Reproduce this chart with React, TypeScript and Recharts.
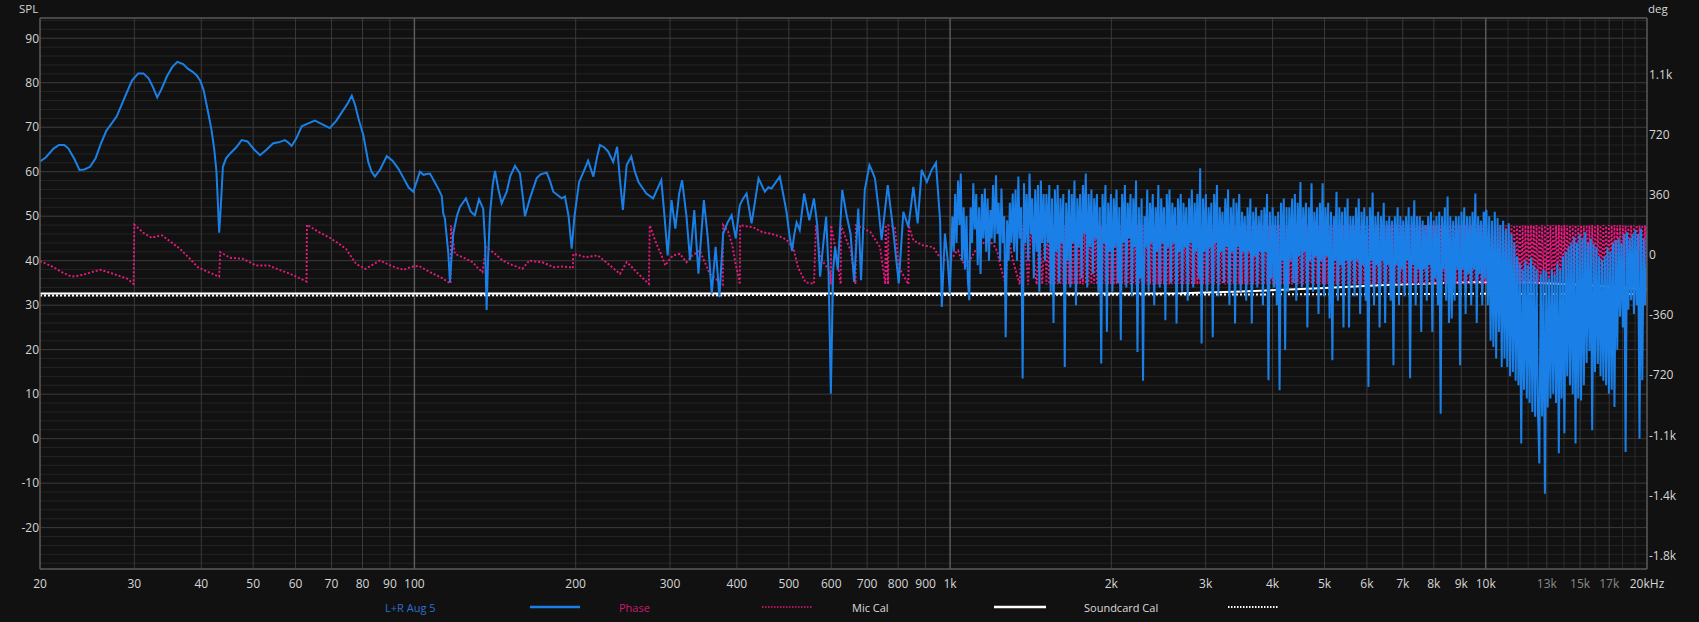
import React from 'react';
import { LineChart, Line, XAxis, YAxis, CartesianGrid } from 'recharts';

const W = 1699;
const H = 622;
const FONT = '"Open Sans", "Noto Sans", sans-serif';
const BLUE = '#1a80e8';
const PINK = '#e8197f';

// ---- ticks ----
const xTicks = [20, 30, 40, 50, 60, 70, 80, 90, 100, 200, 300, 400, 500, 600, 700, 800, 900, 1000, 2000, 3000, 4000, 5000, 6000, 7000, 8000, 9000, 10000, 13000, 15000, 17000, 20000];
const xMinorLines = [11000, 12000, 14000, 16000, 18000, 19000];
const xDecadeLines = [100, 1000, 10000];
const splTicks = [-20, -10, 0, 10, 20, 30, 40, 50, 60, 70, 80, 90];
const splMinor = [-28, -26, -24, -22, -18, -16, -14, -12, -8, -6, -4, -2, 2, 4, 6, 8, 12, 14, 16, 18, 22, 24, 26, 28, 32, 34, 36, 38, 42, 44, 46, 48, 52, 54, 56, 58, 62, 64, 66, 68, 72, 74, 76, 78, 82, 84, 86, 88, 92, 94];
const degTicks = [-1800, -1440, -1080, -720, -360, 0, 360, 720, 1080];
const SPL_DOMAIN = [-29.3, 94.55];
const DEG_DOMAIN = [-1880, 1417];

// ---- L+R Aug 5 SPL, 20 Hz .. 1 kHz ----
const splLow = [
  [20, 62.3], [20.5, 63.2], [21.2, 65.2], [21.7, 66.0], [22.2, 66.0], [22.6, 65.2], [23.2, 62.8], [23.7, 60.4], [24.2, 60.5], [24.8, 61.1],
  [25.4, 63.0], [26.0, 66.4], [26.6, 69.2], [27.2, 70.8], [27.8, 72.4], [28.4, 75.0], [29.0, 77.6], [29.7, 80.5], [30.5, 82.1], [31.2, 82.1],
  [31.9, 81.0], [32.5, 79.0], [33.1, 76.7], [33.7, 78.5], [34.5, 81.4], [35.3, 83.5], [36.1, 84.7], [37.0, 84.2], [37.8, 83.1], [38.5, 82.5],
  [39.2, 81.7], [39.8, 80.5], [40.4, 78.4], [41.1, 74.0], [41.8, 69.4], [42.3, 65.0], [42.7, 60.0], [43.0, 52.0], [43.2, 46.3], [43.5, 52],
  [43.9, 61.1], [44.5, 63.0], [45.3, 64.1], [46.5, 65.5], [47.6, 67.1], [48.8, 66.8], [50.2, 65.0], [51.5, 63.7], [53.0, 65.0], [54.5, 66.4],
  [55.8, 66.6], [57.3, 67.1], [58.2, 66.5], [59.0, 65.8], [60.2, 67.5], [61.6, 70.2], [63.2, 70.8], [65.2, 71.5], [67.5, 70.6], [69.5, 69.8],
  [71.5, 71.5], [73.7, 73.9], [75.2, 75.5], [76.4, 77.1], [77.5, 75], [78.6, 72.0], [80.3, 68.2], [81.2, 65], [82.0, 62.2], [83.2, 60],
  [84.4, 58.9], [86.3, 60.5], [88.8, 63.5], [91, 62.5], [93.3, 60.7], [95.5, 58.5], [97.5, 56.5], [99.5, 55.5], [102.4, 60.0], [104, 59.3],
  [105.4, 59.5], [106.9, 59.6], [108.5, 58.2], [110.8, 56.2], [112.5, 54.5], [113.2, 50.6], [114, 49.5], [115.7, 41.6], [116.5, 35.2], [117.2, 40],
  [118.2, 46.1], [120, 50], [121.6, 52.1], [124.8, 54.0], [127.4, 51.0], [129.7, 50.2], [132, 53.8], [134.4, 51.7], [135.5, 44], [136.4, 28.9],
  [137.2, 40], [138.4, 50.6], [140, 57], [141.4, 60.2], [143.5, 56], [145.5, 52.9], [148.7, 55.5], [151, 59], [154.1, 61.3], [157.4, 59.6],
  [159.5, 54], [160.8, 50.0], [164.3, 54], [169.1, 58.5], [172, 59.4], [176.6, 59.8], [179, 58], [181.7, 55.5], [188.3, 54], [191, 54.4],
  [194, 50], [196.6, 42.7], [199, 50], [203, 57.7], [207, 60], [211, 62.5], [215.8, 58.9], [219, 63], [222, 66], [226, 65.5],
  [230, 64.5], [235, 62.2], [239, 65.6], [242, 58], [245, 51.4], [249, 61.5], [254, 63.4], [258, 60], [262, 57.7], [266, 56.5],
  [271, 55.1], [279, 54], [285, 56.5], [289, 58.1], [293, 50], [297, 41.2], [302, 53.6], [307, 47.2], [312, 55], [316, 58.1],
  [322, 50], [327, 40.1], [333, 51.4], [339, 37.1], [347, 53.6], [353, 45], [359, 32.6], [365, 43.1], [371, 31.8], [377, 46.1],
  [384, 48.5], [391, 50.2], [398, 45], [405, 52.5], [411, 54], [417, 55.1], [426, 48.4], [432, 53], [439, 58.5], [445, 57],
  [451, 55.5], [458, 56.5], [464, 56.2], [472, 57.5], [481, 58.9], [488, 55], [495, 51], [501, 46], [507, 42.2], [512, 46],
  [517, 48.6], [524, 46.9], [534, 55.1], [546, 49.1], [557, 54.0], [565, 48], [572, 36.4], [580, 44], [587, 49.9], [593, 38],
  [599, 10.1], [605, 38], [610, 43.1], [617, 37.9], [629, 55.9], [641, 50.2], [652, 46], [662, 35.2], [674, 51.7], [682, 35.6],
  [693, 55.9], [707, 61.5], [716, 60], [724, 58.5], [735, 52], [745, 44.6], [765, 57.0], [783, 46.9], [802, 34.9], [818, 51],
  [836, 47.6], [854, 56.6], [870, 48.4], [885, 60.4], [905, 57.7], [924, 60.4], [941, 62.0], [958, 49.1], [965, 29.6], [978, 46.1],
  [990, 40], [999, 32.6],
];

// ---- SPL dense bins 1.0 - 1.5 kHz ----
const splA = [
  [1010, 49.9], [1016, 42], [1022, 55], [1028, 44], [1035, 58], [1041, 48], [1047, 59.6], [1053, 40], [1060, 52], [1066, 38],
  [1073, 50], [1079, 36], [1086, 31.1], [1092, 52], [1099, 44], [1105, 57.4], [1112, 47], [1119, 55], [1126, 39], [1133, 52],
  [1140, 37], [1147, 55], [1154, 45], [1161, 56.2], [1168, 42], [1175, 54], [1182, 40], [1189, 51.4], [1196, 45], [1203, 57],
  [1211, 44], [1218, 59.2], [1225, 46], [1232, 53], [1240, 40], [1247, 56.2], [1255, 44], [1262, 50], [1270, 22.8], [1278, 49.1],
  [1286, 40], [1293, 53], [1301, 44], [1309, 55.1], [1317, 42], [1325, 56], [1333, 40], [1341, 58.9], [1349, 45], [1357, 52],
  [1366, 13.5], [1374, 57.4], [1382, 44], [1390, 55], [1399, 40], [1407, 59.6], [1416, 46], [1424, 54], [1433, 36], [1442, 56],
  [1451, 42], [1459, 57], [1468, 33], [1477, 58], [1486, 44], [1495, 55],
];

// ---- Phase dense bins 1.0 - 1.5 kHz ----
const phaseFreqsA = [
  1010, 1022, 1035, 1047, 1060, 1073, 1086, 1099, 1112, 1126,
  1140, 1154, 1168, 1182, 1196, 1211, 1225, 1240, 1255, 1270,
  1286, 1301, 1317, 1333, 1349, 1366, 1382, 1399, 1416, 1433,
  1451, 1468, 1486,
];
const phaseA = [
  -20, 10, 26, -20, -50, -74, -40, -10, 20, 40,
  50, 70, 85, 96, 70, 50, 20, -60, -120, -178,
  120, 10, -60, -120, -176, 178, 60, -178, 176, -10,
  -178, 178, -176,
];

// ---- dense bins 1.5 - 10 kHz ----
const freqsM = [
  1504, 1513, 1523, 1532, 1541, 1550, 1560, 1569, 1579, 1588, 1598, 1607, 1617, 1627, 1637, 1647, 1657, 1667, 1677, 1687,
  1697, 1707, 1718, 1728, 1739, 1749, 1760, 1770, 1781, 1792, 1803, 1814, 1825, 1836, 1847, 1858, 1869, 1880, 1892, 1903,
  1915, 1926, 1938, 1950, 1962, 1973, 1985, 1997,
  2009, 2021, 2033, 2045, 2058, 2070, 2083, 2095, 2108, 2120, 2133, 2146, 2159, 2172, 2185, 2198, 2211, 2224, 2238, 2251,
  2265, 2278, 2292, 2306, 2320, 2334, 2348, 2362, 2376, 2390, 2405, 2419, 2434, 2448, 2463, 2478, 2493, 2508, 2523, 2538,
  2553, 2568, 2584, 2599, 2615, 2631, 2647, 2663, 2679, 2695, 2711, 2727, 2744, 2760, 2777, 2793, 2810, 2827, 2844, 2861,
  2878, 2895, 2913, 2930, 2948, 2966, 2984, 3002, 3020, 3038, 3056, 3074, 3093, 3111, 3130, 3149, 3168, 3187, 3206, 3225,
  3245, 3264, 3284, 3303, 3323, 3343, 3363, 3383, 3404, 3424, 3445, 3466, 3487, 3508, 3529, 3550, 3571, 3592, 3614, 3636,
  3658, 3680, 3702, 3724, 3746, 3768, 3791, 3814, 3837, 3860, 3883, 3906, 3930, 3953, 3977, 4001,
  4025, 4049, 4073, 4097, 4122, 4147, 4172, 4197, 4222, 4247, 4273, 4298, 4324, 4350, 4376, 4402, 4429, 4455, 4482, 4509,
  4536, 4563, 4590, 4617, 4645, 4673, 4701, 4729, 4758, 4786, 4815, 4844, 4873, 4902, 4931, 4960, 4990, 5020, 5050, 5080,
  5111, 5141, 5172, 5203, 5234, 5265, 5297, 5329, 5361, 5393, 5425, 5457, 5490, 5523, 5556, 5589, 5623, 5656, 5690, 5724,
  5759, 5793, 5828, 5863, 5898, 5933, 5969, 6004, 6040, 6076, 6113, 6149, 6186, 6223, 6260, 6298, 6336, 6374, 6412, 6450,
  6489, 6528, 6567, 6606, 6645, 6685, 6725, 6765, 6806, 6847, 6888, 6929, 6970, 7012, 7054, 7096, 7139, 7181, 7224, 7267,
  7311, 7355, 7399, 7443, 7488, 7533, 7578, 7623, 7669, 7715, 7761, 7807, 7854, 7901, 7948, 7995,
  8043, 8091, 8140, 8189, 8238, 8287, 8337, 8387, 8437, 8487, 8538, 8589, 8640, 8692, 8744, 8796, 8849, 8902, 8955, 9009,
  9063, 9117, 9171, 9226, 9281, 9337, 9393, 9449, 9506, 9563, 9620, 9677, 9735, 9793, 9852, 9911, 9970, 10000,
];
const splM = [
  40, 55, 44, 57, 33, 54, 26, 56, 42, 57, 35, 54, 44, 55, 16.1, 53, 40, 56, 34, 55,
  44, 58, 30, 54, 43, 55, 36, 57, 46, 59.6, 34, 55, 43, 56, 37, 54, 45, 55, 33, 52,
  16.9, 55, 44, 57, 24, 53, 42, 55,
  33, 54, 43, 56, 35, 52, 22.1, 55, 44, 57, 34, 53, 45, 55, 32, 54, 43, 58, 19.5, 52,
  36, 54, 13, 50, 43, 56, 33, 53, 44, 55, 30, 52, 42, 57, 34, 54, 44, 52, 26.6, 55,
  43, 56, 35, 53, 44, 52, 25.9, 54, 42, 55, 33, 53, 43, 52, 31, 54, 44, 56, 34, 53,
  42, 55, 36, 60.8, 21.4, 54, 42, 55, 33, 52, 43, 53, 22.8, 55, 44, 57, 32, 52, 42, 51,
  35, 54, 43, 56, 30, 52, 42, 54, 25.9, 53, 43, 55, 33, 51, 42, 50, 31, 52, 42, 54,
  25.9, 51, 41, 52, 34, 50, 42, 51.4, 30, 52, 42, 55, 13.1, 51, 36, 52,
  34, 50, 30, 51, 10.9, 53, 40, 54, 19.9, 52, 33, 52, 40, 54, 35, 55, 31, 53, 41, 57.7,
  34, 52, 42, 53, 25, 52, 40, 57.4, 33, 51, 41, 52, 28, 53, 40, 57.4, 32, 52, 41, 53,
  27, 51, 17.6, 50, 40, 55.5, 31, 52, 39, 51, 25, 52, 40, 54, 25, 50, 40, 50, 32, 52,
  40, 54, 28, 51, 39, 52, 31, 50, 11.6, 52, 40, 55.3, 30, 50, 39, 51, 25, 50, 40, 53,
  26, 49, 39, 50, 31, 49, 16.5, 50, 39, 52, 30, 50, 38, 49, 32, 50, 40, 52, 13.6, 50,
  39, 53.6, 30, 50, 38, 50, 24, 49, 38, 48, 31, 50, 39, 51, 24, 49,
  36, 50, 30, 51, 5.6, 50, 38, 52, 31, 54.4, 26, 50, 27, 49, 31, 50, 38, 50, 16.5, 51,
  38, 52, 28, 50, 37, 50, 30, 51, 38, 55.1, 26, 50, 37, 49, 30, 51, 36, 51,
];
const phaseM = [
  178, -178, 176, -176, 178, -174, 176, -178, 178, -176, 174, -178, 178, -176, 176, -178, 178, -174, 176, -178,
  178, -176, 174, -178, 178, -176, 176, -178, 178, -174, 178, -178, 176, -176, 178, -174, 176, -178, 178, -176,
  174, -178, 178, -176, 176, -178, 178, -174,
  176, -178, 178, -176, 174, -178, 178, -176, 176, -178, 178, -174, 176, -178, 178, -176, 174, -178, 178, -176,
  176, -178, 178, -174, 176, -178, 178, -176, 174, -178, 178, -176, 176, -178, 178, -174, 176, -178, 178, -176,
  174, -178, 178, -176, 176, -178, 178, -174, 176, -178, 178, -176, 174, -178, 178, -176, 176, -178, 178, -174,
  176, -178, 178, -176, 174, -178, 178, -176, 176, -178, 178, -174, 176, -178, 178, -176, 174, -178, 178, -176,
  176, -178, 178, -174, 176, -178, 178, -176, 174, -178, 178, -176, 176, -178, 178, -174, 176, -178, 178, -176,
  174, -178, 178, -176, 176, -178, 178, -174, 176, -178, 178, -176, 174, -178, 178, -176,
  176, -178, 178, -174, 176, -178, 178, -176, 174, -178, 178, -176, 176, -178, 178, -174, 176, -178, 178, -176,
  174, -178, 178, -176, 176, -178, 178, -174, 176, -178, 178, -176, 174, -178, 178, -176, 176, -178, 178, -174,
  176, -178, 178, -176, 174, -178, 178, -176, 176, -178, 178, -174, 176, -178, 178, -176, 174, -178, 178, -176,
  176, -178, 178, -174, 176, -178, 178, -176, 174, -178, 178, -176, 176, -178, 178, -174, 176, -178, 178, -176,
  174, -178, 178, -176, 176, -178, 178, -174, 176, -178, 178, -176, 174, -178, 178, -176, 176, -178, 178, -174,
  176, -178, 178, -176, 174, -178, 178, -176, 176, -178, 178, -174, 176, -178, 178, -176,
  174, -178, 178, -176, 176, -178, 178, -174, 176, -178, 178, -176, 174, -178, 178, -176, 176, -178, 178, -174,
  176, -178, 178, -176, 174, -178, 178, -176, 176, -178, 178, -174, 176, -178, 178, -176, 174, -178,
];

// ---- dense bins 10 - 20 kHz ----
const freqsE = [
  10030, 10090, 10150, 10211, 10272, 10334, 10396, 10458, 10521, 10584,
  10648, 10712, 10776, 10841, 10906, 10971, 11037, 11103, 11170, 11237,
  11304, 11372, 11440, 11509, 11578, 11648, 11718, 11788, 11859, 11930,
  12002, 12074, 12146, 12219, 12292, 12366, 12440, 12515, 12590, 12666,
  12742, 12818, 12895, 12972, 13050, 13128, 13207, 13286, 13366, 13446,
  13527, 13608, 13690, 13772, 13855, 13938, 14022, 14106, 14190, 14275,
  14361, 14447, 14534, 14621, 14709, 14797, 14886, 14975, 15065, 15155,
  15246, 15338, 15430, 15522, 15615, 15709, 15803, 15898, 15993, 16089,
  16186, 16283, 16381, 16479, 16578, 16677, 16777, 16878, 16979, 17081,
  17183, 17286, 17390, 17494, 17599, 17705, 17811, 17918, 18025, 18133,
  18242, 18351, 18461, 18572, 18683, 18795, 18908, 19021, 19135, 19250,
  19366, 19482, 19599, 19716, 19834, 19953, 20000,
];
const splE = [
  51.4, 30, 50, 22, 49, 20.6, 51, 18, 49.6, 24,
  48, 16.1, 49, 18, 47, 16.1, 48.4, 14, 46, 15,
  44, 13, 41, 12, 39.4, -1.1, 38, 11, 40, 9,
  39, 8, 40.7, 6, 39, 4.9, 38, 6, -5.6, 37,
  5, 38, -12.4, 37.5, 7, 36, 9, 38, 10.1, 37,
  8, 39.4, -3.3, 38, 9, 41, 1.2, 42, 14, 43.1,
  12, 44, 10, 45.3, -1.1, 44, 9, 46, 8.6, 45,
  12, 46.4, 17, 44, 19.7, 45, 1.9, 43.8, 15, 43,
  16.8, 41, 14, 40.1, 13, 41, 12, 43, 10.1, 42,
  11, 44, 7.1, 44.6, 20, 45, 27.4, 44, 25, 46,
  -3, 46.4, 29, 45, 31.1, 46, 28, 47, 30, 46,
  0, 47.2, 13.1, 45, 30, 38.5, 46,
];
const phaseE = [
  178, -178, 176, -176, 178, -178, 174, -176, 178, -178,
  176, -176, 178, -178, 176, -174, 178, -178, 176, -176,
  178, -178, 174, -176, 178, -178, 176, -176, 178, -178,
  176, -174, 178, -178, 176, -176, 178, -178, 174, -176,
  178, -178, 176, -176, 178, -178, 176, -174, 178, -178,
  176, -176, 178, -178, 174, -176, 178, -178, 176, -176,
  178, -178, 176, -174, 178, -178, 176, -176, 178, -178,
  174, -176, 178, -178, 176, -176, 178, -178, 176, -174,
  178, -178, 176, -176, 178, -178, 174, -176, 178, -178,
  176, -176, 178, -178, 176, -174, 178, -178, 176, -176,
  178, -178, 174, -176, 178, -178, 176, -176, 178, -178,
  176, -174, 178, -178, 176, -176, 178,
];

// ---- Phase (deg), 20 Hz .. 1 kHz ----
const phaseLow = [
  [20, -38], [20.6, -55], [21.2, -74], [22, -105], [22.9, -130], [23.6, -125], [24.4, -114], [25.2, -100], [25.9, -90], [26.6, -100],
  [27.4, -114], [28.2, -128], [29, -140], [29.9, -174], [30, 180], [30.5, 160], [31.3, 128], [32.3, 102], [33, 110], [33.8, 116],
  [35, 80], [36.5, 36], [38, -20], [39.4, -74], [41, -100], [42.7, -124], [43.2, -130], [43.4, 16], [45.3, -18], [47.9, -24],
  [50.6, -64], [53.5, -64], [56, -90], [58.6, -114], [61, -140], [62.9, -160], [63, 180], [66, 140], [69.5, 102], [72, 70],
  [74.5, 36], [77.8, -54], [81, -84], [83.5, -60], [86.2, -34], [89, -55], [91.8, -74], [95.6, -90], [98.5, -72], [101.9, -66],
  [105, -90], [108.5, -114], [112, -135], [115.7, -164], [116.8, -172], [117, 176], [119, 6], [124, -20], [128.5, -44], [131, -75],
  [134, -104], [136, 46], [141, 10], [146, -34], [152, -60], [159, -84], [164, -34], [168, -40], [173, -44], [178, -60],
  [182, -74], [188, -70], [195, -74], [197.6, -80], [198, 6], [204, -5], [209, -14], [215, -8], [220, -4], [228, -44],
  [235, -80], [242, -114], [249, -44], [254, -70], [260, -104], [267, -140], [274, -174], [275, 176], [279, 120], [283, 66],
  [289, 0], [294, -64], [299, -30], [304, -4], [313, 6], [322, -44], [330, -5], [341, 26], [348, -40], [356, -114],
  [370, -160], [376.5, -178], [377, 178], [385, 140], [392, 60], [398, -60], [404, -150], [405, -178], [405.5, 178], [417, 170],
  [428, 166], [446, 136], [464, 125], [481, 110], [495, 90], [510, 40], [520, -74], [537, -164], [557, -174], [562, 176],
  [572, -14], [597, -104], [599, -176], [599.5, 176], [612, 20], [625, -176], [625.5, 176], [641, 86], [652, 26], [666, -174],
  [667, 176], [680, 166], [710, 136], [740, 46], [757, -176], [758, 178], [766, -176], [767, 176], [789, 166], [802, -74],
  [836, -176], [837, 176], [854, 86], [890, 56], [930, 46], [956, -14], [990, -40],
];

// ---- calibration curves ----
const micCal = [
  [20, 32.6], [200, 32.6], [1000, 32.6], [2700, 32.7], [3500, 33.1], [4900, 33.8], [6300, 34.5], [9500, 35.2], [12000, 35.1], [15000, 34.6], [18000, 34.0], [20000, 33.5],
];
const soundcardCal = [
  [20, 32.15], [100, 32.2], [1000, 32.3], [5000, 32.45], [10000, 32.55], [20000, 32.5],
];

const toRows = (pairs) => pairs.map(([f, v]) => ({ f, v }));
const zipRows = (fs, vs) => {
  const n = Math.min(fs.length, vs.length);
  const out = [];
  for (let i = 0; i < n; i++) out.push({ f: fs[i], v: vs[i] });
  return out;
};

const splData = [...toRows(splLow), ...toRows(splA), ...zipRows(freqsM, splM), ...zipRows(freqsE, splE)];
const phaseData = [...toRows(phaseLow), ...zipRows(phaseFreqsA, phaseA), ...zipRows(freqsM, phaseM), ...zipRows(freqsE, phaseE)];
const micData = toRows(micCal);
const scData = toRows(soundcardCal);

const fmtX = (v) => {
  if (v === 20000) return '20kHz';
  if (v >= 1000) return `${v / 1000}k`;
  return `${v}`;
};
const fmtDeg = (v) => {
  if (Math.abs(v) >= 1000) return `${(v / 1000).toFixed(1)}k`;
  return `${v}`;
};

const XTick = (props) => {
  const { x, y, payload } = props;
  const v = payload.value;
  const dim = v === 13000 || v === 15000 || v === 17000;
  return (
    <text x={x} y={y} dy="0.71em" textAnchor="middle" fill={dim ? '#8a8a8a' : '#d6d6d6'} fontSize={12} fontFamily={FONT}>
      {fmtX(v)}
    </text>
  );
};

const tickStyle = { fill: '#d6d6d6', fontSize: 12, fontFamily: FONT };

export default function App() {
  return (
    <div style={{ position: 'relative', width: W, height: H, background: '#111111', overflow: 'hidden' }}>
      <style>{`html,body{margin:0;padding:0;background:#111111;}`}</style>
      <LineChart width={W} height={H} margin={{ top: 18, right: 0, bottom: 0, left: 0 }}>
        <CartesianGrid yAxisId="spl" vertical={false} horizontalValues={splMinor} stroke="#242424" strokeWidth={1} />
        <CartesianGrid yAxisId="spl" vertical={false} horizontalValues={splTicks} stroke="#3d3d3d" strokeWidth={1} />
        <CartesianGrid yAxisId="spl" horizontal={false} verticalValues={xMinorLines} stroke="#2c2c2c" strokeWidth={1} />
        <CartesianGrid yAxisId="spl" horizontal={false} verticalValues={xTicks.filter((t) => t !== 20 && t !== 20000 && t !== 100 && t !== 1000 && t !== 10000)} stroke="#3a3a3a" strokeWidth={1} />
        <CartesianGrid yAxisId="spl" horizontal={false} verticalValues={xDecadeLines} stroke="#5e5e5e" strokeWidth={1.4} />
        <CartesianGrid yAxisId="spl" vertical={false} horizontalValues={[SPL_DOMAIN[1]]} stroke="#5a5a5a" strokeWidth={1.5} />
        <XAxis
          dataKey="f"
          type="number"
          scale="log"
          domain={[20, 20000]}
          allowDataOverflow
          ticks={xTicks}
          interval={0}
          height={53}
          tickSize={0}
          tickMargin={10}
          tickLine={false}
          axisLine={{ stroke: '#5a5a5a', strokeWidth: 1.5 }}
          tick={<XTick />}
        />
        <YAxis
          yAxisId="spl"
          orientation="left"
          type="number"
          domain={SPL_DOMAIN}
          allowDataOverflow
          ticks={splTicks}
          interval={0}
          width={40}
          tickSize={0}
          tickMargin={1}
          tickLine={false}
          axisLine={{ stroke: '#5a5a5a', strokeWidth: 1.5 }}
          tick={tickStyle}
        />
        <YAxis
          yAxisId="deg"
          orientation="right"
          type="number"
          domain={DEG_DOMAIN}
          allowDataOverflow
          ticks={degTicks}
          interval={0}
          width={52}
          tickSize={0}
          tickMargin={2}
          tickLine={false}
          tickFormatter={fmtDeg}
          axisLine={{ stroke: '#5a5a5a', strokeWidth: 1.5 }}
          tick={tickStyle}
        />
        <Line yAxisId="spl" data={scData} dataKey="v" type="linear" stroke="#ffffff" strokeWidth={2} strokeDasharray="2 2" dot={false} activeDot={false} isAnimationActive={false} />
        <Line yAxisId="spl" data={micData} dataKey="v" type="linear" stroke="#ffffff" strokeWidth={2} dot={false} activeDot={false} isAnimationActive={false} />
        <Line yAxisId="deg" data={phaseData} dataKey="v" type="linear" stroke={PINK} strokeWidth={1.9} strokeDasharray="2 2" dot={false} activeDot={false} isAnimationActive={false} />
        <Line yAxisId="spl" data={splData} dataKey="v" type="linear" stroke={BLUE} strokeWidth={2} dot={false} activeDot={false} isAnimationActive={false} />
      </LineChart>
      <svg width={W} height={H} style={{ position: 'absolute', left: 0, top: 0, pointerEvents: 'none' }}>
        <text x={19} y={8} dominantBaseline="central" fill="#d6d6d6" fontSize={11.5} fontFamily={FONT}>SPL</text>
        <text x={1648} y={8} dominantBaseline="central" fill="#d6d6d6" fontSize={11.5} fontFamily={FONT}>deg</text>
        <g fontFamily={FONT} fontSize={11}>
          <text x={385} y={607} dominantBaseline="central" fill="#2f6fcf">L+R Aug 5</text>
          <line x1={530} y1={607} x2={580} y2={607} stroke={BLUE} strokeWidth={2.5} />
          <text x={619} y={607} dominantBaseline="central" fill="#cc1a70">Phase</text>
          <line x1={762} y1={607} x2={812} y2={607} stroke={PINK} strokeWidth={1.5} strokeDasharray="1.5 1.5" />
          <text x={852} y={607} dominantBaseline="central" fill="#dcdcdc">Mic Cal</text>
          <line x1={994} y1={607} x2={1046} y2={607} stroke="#ffffff" strokeWidth={2.5} />
          <text x={1084} y={607} dominantBaseline="central" fill="#dcdcdc">Soundcard Cal</text>
          <line x1={1228} y1={607} x2={1278} y2={607} stroke="#ffffff" strokeWidth={2} strokeDasharray="1.5 1.5" />
        </g>
      </svg>
    </div>
  );
}
